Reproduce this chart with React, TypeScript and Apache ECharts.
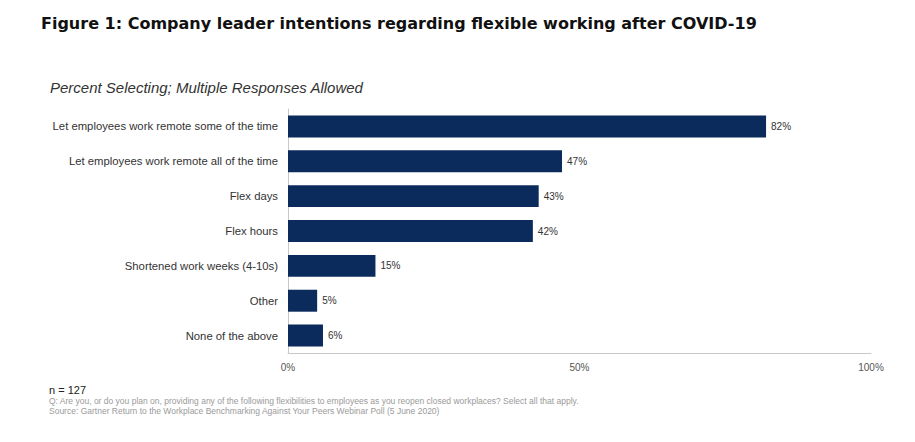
import React, { useEffect, useRef } from "react";
import * as echarts from "echarts";

const categories = [
  "Let employees work remote some of the time",
  "Let employees work remote all of the time",
  "Flex days",
  "Flex hours",
  "Shortened work weeks (4-10s)",
  "Other",
  "None of the above",
];
const percents = [82, 47, 43, 42, 15, 5, 6];

const titleText = "Figure 1: Company leader intentions regarding flexible working after COVID-19";
const subtitleText = "Percent Selecting; Multiple Responses Allowed";
const sampleText = "n = 127";
const questionText =
  "Q: Are you, or do you plan on, providing any of the following flexibilities to employees as you reopen closed workplaces? Select all that apply.";
const sourceText =
  "Source: Gartner Return to the Workplace Benchmarking Against Your Peers Webinar Poll (5 June 2020)";

const App = () => {
  const chartRef = useRef<HTMLDivElement>(null);

  useEffect(() => {
    if (!chartRef.current) return;
    document.body.style.margin = "0";

    const chart = echarts.init(chartRef.current, null, { renderer: "svg" });

    const option: echarts.EChartsCoreOption = {
      animation: false,
      backgroundColor: "#ffffff",
      title: [
        {
          text: titleText,
          left: 36,
          top: 10,
          textStyle: {
            fontFamily: "DejaVu Sans",
            fontWeight: "bold",
            fontSize: 16,
            color: "#111111",
          },
        },
        {
          text: subtitleText,
          left: 45,
          top: 75,
          textStyle: {
            fontFamily: "Liberation Sans",
            fontStyle: "italic",
            fontWeight: "normal",
            fontSize: 15,
            color: "#333333",
          },
        },
        {
          text: sampleText,
          left: 44,
          top: 379,
          textStyle: {
            fontFamily: "Liberation Sans",
            fontWeight: "normal",
            fontSize: 11,
            color: "#222222",
          },
        },
        {
          text: questionText,
          left: 44,
          top: 391.5,
          textStyle: {
            fontFamily: "Liberation Sans",
            fontWeight: "normal",
            fontSize: 8.5,
            color: "#9a9a9a",
          },
        },
        {
          text: sourceText,
          left: 44,
          top: 401.5,
          textStyle: {
            fontFamily: "Liberation Sans",
            fontWeight: "normal",
            fontSize: 8.5,
            color: "#9a9a9a",
          },
        },
      ],
      grid: { left: 288, right: 44, top: 109, bottom: 89, containLabel: false },
      xAxis: {
        type: "value",
        min: 0,
        max: 100,
        interval: 50,
        axisLine: { show: true, lineStyle: { color: "#c8c8c8", width: 1 } },
        axisTick: { show: false },
        splitLine: { show: false },
        axisLabel: {
          formatter: "{value}%",
          fontFamily: "Liberation Sans",
          fontSize: 10,
          color: "#555555",
          margin: 9,
        },
      },
      yAxis: {
        type: "category",
        data: categories,
        inverse: true,
        axisLine: { show: true, lineStyle: { color: "#c8c8c8", width: 1 } },
        axisTick: { show: false },
        axisLabel: {
          fontFamily: "Liberation Sans",
          fontSize: 11.3,
          color: "#333333",
          margin: 10,
        },
      },
      series: [
        {
          type: "bar",
          data: percents,
          barCategoryGap: "37%",
          itemStyle: { color: "#0b2b5c" },
          label: {
            show: true,
            position: "right",
            distance: 5,
            formatter: "{c}%",
            fontFamily: "Liberation Sans",
            fontSize: 10,
            color: "#333333",
          },
        },
      ],
    };

    chart.setOption(option);

    const handleResize = () => chart.resize();
    window.addEventListener("resize", handleResize);

    return () => {
      window.removeEventListener("resize", handleResize);
      chart.dispose();
    };
  }, []);

  return <div ref={chartRef} style={{ width: 915, height: 442 }} />;
};

export default App;
